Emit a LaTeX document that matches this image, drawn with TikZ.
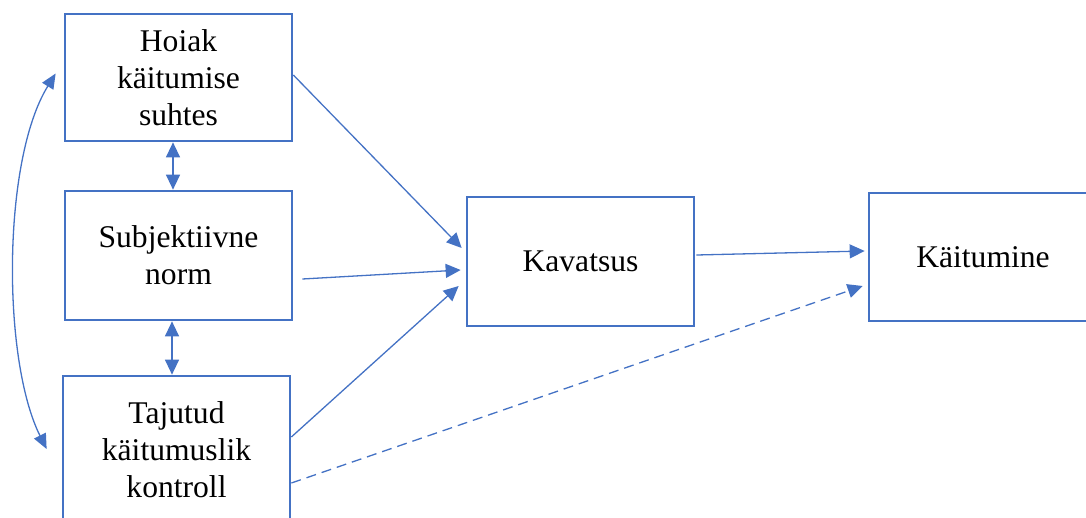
\documentclass[tikz,border=0pt]{standalone}
\usepackage{fontspec}
\setmainfont{Liberation Serif}
\usetikzlibrary{arrows.meta,calc}
\definecolor{officeblue}{HTML}{4472C4}
\begin{document}
\begin{tikzpicture}[x=1pt,y=-1pt,
  box/.style={draw=officeblue,line width=2.7pt,fill=white,align=center,
    inner sep=0pt,font=\fontsize{31.6}{37}\selectfont},
  conn/.style={draw=officeblue,line width=1.3pt,
    -{Triangle[length=15pt,width=14pt]}},
  twoway/.style={draw=officeblue,line width=1.3pt,
    {Triangle[length=15pt,width=14pt]}-{Triangle[length=15pt,width=14pt]}},
  curvy/.style={draw=officeblue,line width=1.3pt,
    {Triangle[length=15pt,width=13pt]}-{Triangle[length=15pt,width=13pt]}},
  weak/.style={conn,dash pattern=on 10pt off 6pt}]
\useasboundingbox (0,0) rectangle (1086,517);

% constructs of the model
\node[box,minimum width=227pt,minimum height=127pt] (hoiak) at (178.5,77.5)
  {\raisebox{-3pt}{\parbox{200pt}{\centering Hoiak\\käitumise\\suhtes}}};
\node[box,minimum width=227pt,minimum height=129pt] (subj) at (178.5,255.5)
  {\raisebox{-2.5pt}{\parbox{200pt}{\centering Subjektiivne\\norm}}};
\node[box,minimum width=227pt,minimum height=148pt] (taj) at (176.5,450)
  {Tajutud\\käitumuslik\\kontroll};
\node[box,minimum width=227pt,minimum height=129pt] (kav) at (580.5,261.5)
  {Kavatsus};
\node[box,minimum width=228pt,minimum height=128pt] (kait) at (983,257)
  {Käitumine};

% correlations between the predictors
\draw[twoway] ($(hoiak.south)+(-5.5,0)$) -- ($(subj.north)+(-5.5,0)$);
\draw[twoway] ($(subj.south)+(-6.5,0)$) -- ($(taj.north)+(-4.5,0)$);
\draw[curvy] ($(taj.west)+(-15,-1)$) .. controls (2,360) and (2,160) ..
  ($(hoiak.west)+(-8,-4)$);

% paths to intention and behaviour
\draw[conn] ($(hoiak.east)+(0,-2.5)$) -- ($(kav.west)+(-4,-13.5)$);
\draw[conn] ($(subj.east)+(9,23.5)$) -- ($(kav.west)+(-5,8.5)$);
\draw[conn] ($(taj.east)+(0,-13)$) -- ($(kav.west)+(-7,24.5)$);
\draw[conn] ($(kav.east)+(1,-6.5)$) -- ($(kait.west)+(-3,-6)$);
\draw[weak] ($(taj.east)+(0,33)$) -- ($(kait.west)+(-5,29)$);
\end{tikzpicture}
\end{document}
